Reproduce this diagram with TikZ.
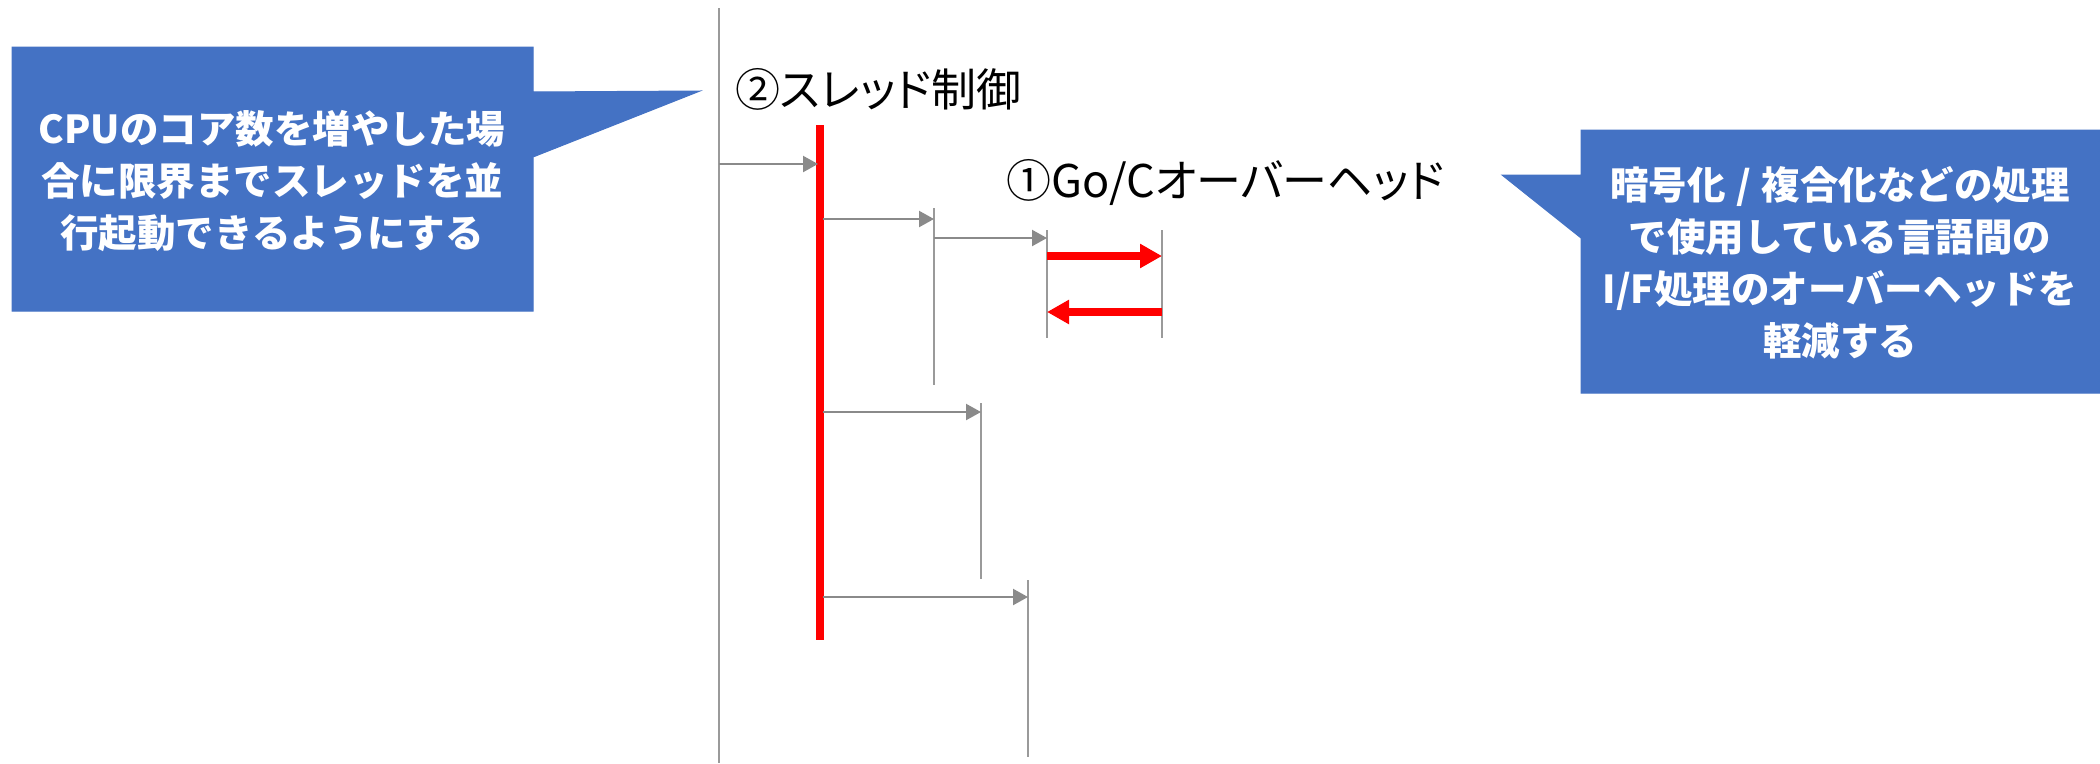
\documentclass[tikz,border=0pt]{standalone}
\usepackage{fontspec}
\newfontfamily\jp{Noto Sans CJK JP}
\newfontfamily\jpp[RawFeature=+palt]{Noto Sans CJK JP}
\usetikzlibrary{arrows.meta}
\definecolor{callblue}{HTML}{4472C4}
\definecolor{lifegray}{HTML}{9A9A9A}
\definecolor{arrgray}{HTML}{8A8A8A}
\definecolor{hotred}{HTML}{FF0000}
\tikzset{
  callout/.style={fill=callblue, draw=callblue, line width=1pt},
  calltext/.style={text=white, align=center, font=\jp\bfseries\fontsize{38.5}{52}\selectfont, inner sep=0pt},
  label/.style={text=black, anchor=west, font=\jpp\fontsize{45}{50}\selectfont, inner sep=0pt},
  lifeline/.style={draw=lifegray, line width=2pt},
  msg/.style={draw=arrgray, line width=2.2pt, -{Triangle[length=15pt,width=16pt]}},
  redbar/.style={draw=hotred, line width=8.5pt},
  redmsg/.style={draw=hotred, line width=8pt, -{Triangle[length=22pt,width=23pt]}}
}
\begin{document}
\begin{tikzpicture}[x=1pt,y=-1pt]
\useasboundingbox (0,0) rectangle (2100,763);
% callouts
\fill[callout] (12,47) -- (533,47) -- (533,92) -- (700,91) -- (533,157) -- (533,311) -- (12,311) -- cycle;
\node[calltext] (lefttext) at (272,181) {CPUのコア数を増やした場\\合に限界までスレッドを並\\行起動できるようにする};
\fill[callout] (1581,130) -- (2100,130) -- (2100,393) -- (1581,393) -- (1581,238) -- (1502,175) -- (1581,175) -- cycle;
\node[calltext] (righttext) at (1840,263) {暗号化\hspace{0.28em}/\hspace{0.28em}複合化などの処理\\で使用している言語間の\\I/F処理のオーバーヘッドを\\軽減する};
% labels
\node[label] (thread) at (735,89) {②スレッド制御};
\node[label] (gocover) at (1006,182) {①Go/Cオーバーヘッド};
% lifelines
\coordinate (l1t) at (719,8);   \coordinate (l1b) at (719,763);
\coordinate (l2t) at (934,208); \coordinate (l2b) at (934,385);
\coordinate (l3t) at (1047,230); \coordinate (l3b) at (1047,338);
\coordinate (l4t) at (1162,230); \coordinate (l4b) at (1162,338);
\coordinate (l5t) at (981,403); \coordinate (l5b) at (981,579);
\coordinate (l6t) at (1028,580); \coordinate (l6b) at (1028,757);
\coordinate (rbt) at (820,125); \coordinate (rbb) at (820,640);
\draw[lifeline] (l1t) -- (l1b);
\draw[lifeline] (l2t) -- (l2b);
\draw[lifeline] (l3t) -- (l3b);
\draw[lifeline] (l4t) -- (l4b);
\draw[lifeline] (l5t) -- (l5b);
\draw[lifeline] (l6t) -- (l6b);
\draw[redbar] (rbt) -- (rbb);
% messages
\coordinate (m1s) at (719,164); \coordinate (m1e) at (818,164);
\coordinate (m2s) at (823,219); \coordinate (m2e) at (934,219);
\coordinate (m3s) at (934,238); \coordinate (m3e) at (1047,238);
\coordinate (m4s) at (823,412); \coordinate (m4e) at (981,412);
\coordinate (m5s) at (823,597); \coordinate (m5e) at (1028,597);
\draw[msg] (m1s) -- (m1e);
\draw[msg] (m2s) -- (m2e);
\draw[msg] (m3s) -- (m3e);
\draw[msg] (m4s) -- (m4e);
\draw[msg] (m5s) -- (m5e);
\coordinate (r1s) at (1047,256); \coordinate (r1e) at (1162,256);
\coordinate (r2s) at (1162,312); \coordinate (r2e) at (1047,312);
\draw[redmsg] (r1s) -- (r1e);
\draw[redmsg] (r2s) -- (r2e);
\end{tikzpicture}
\end{document}
